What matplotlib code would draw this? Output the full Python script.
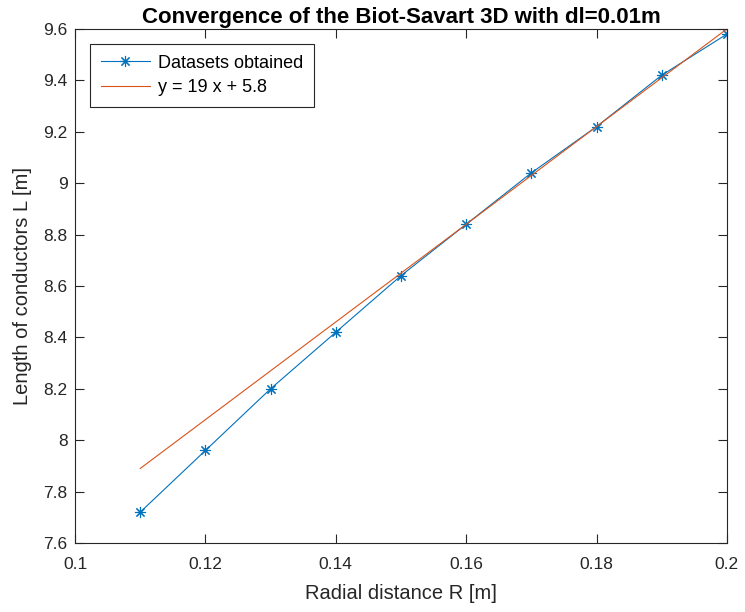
import numpy as np
import matplotlib
matplotlib.use("Agg")
import matplotlib.pyplot as plt

plt.rcParams['font.family'] = ['Liberation Sans', 'DejaVu Sans']

R = [0.11, 0.12, 0.13, 0.14, 0.15, 0.16, 0.17, 0.18, 0.19, 0.20]
L = [7.72, 7.96, 8.20, 8.42, 8.64, 8.84, 9.04, 9.22, 9.42, 9.58]
slope = 19
intercept = 5.8
xticks = [0.1, 0.12, 0.14, 0.16, 0.18, 0.2]
xticklabels = ['0.1', '0.12', '0.14', '0.16', '0.18', '0.2']
yticks = [7.6, 7.8, 8.0, 8.2, 8.4, 8.6, 8.8, 9.0, 9.2, 9.4, 9.6]
yticklabels = ['7.6', '7.8', '8', '8.2', '8.4', '8.6', '8.8', '9', '9.2', '9.4', '9.6']

dark = '#262626'
fig = plt.figure(figsize=(7.45, 6.12), dpi=100)
ax = fig.add_axes([0.1007, 0.1127, 0.875, 0.840])

ax.plot(R, L, color='#0072BD', marker=(8, 2, 0), markersize=8, linewidth=0.8,
        markeredgewidth=0.8, label='Datasets obtained')
Rf = np.array(R)
ax.plot(Rf, slope * Rf + intercept, color='#D95319', linewidth=0.8,
        label='y = 19 x + 5.8')

ax.set_xlim(0.1, 0.2)
ax.set_ylim(7.6, 9.6)
ax.set_xticks(xticks)
ax.set_xticklabels(xticklabels)
ax.set_yticks(yticks)
ax.set_yticklabels(yticklabels)
ax.tick_params(direction='in', top=True, right=True, length=6.5, width=0.8,
               labelsize=12.5, colors=dark)
ax.tick_params(axis='x', pad=10)
ax.tick_params(axis='y', pad=5.5)
for s in ax.spines.values():
    s.set_color(dark)
    s.set_linewidth(0.8)

ax.set_xlabel('Radial distance R [m]', fontsize=14.5, color=dark, labelpad=9)
ax.set_ylabel('Length of conductors L [m]', fontsize=14.5, color=dark, labelpad=8)
ax.set_title('Convergence of the Biot-Savart 3D with dl=0.01m', fontsize=16,
             fontweight='bold', color='black', pad=4)

leg = ax.legend(loc='upper left', fontsize=13, fancybox=False, framealpha=1,
                edgecolor=dark, handlelength=2.7, handletextpad=0.45,
                borderpad=0.6, labelspacing=0.4, borderaxespad=0,
                bbox_to_anchor=(0.023, 0.971))
leg.get_frame().set_linewidth(0.8)

fig.savefig('out.png', dpi=100)
